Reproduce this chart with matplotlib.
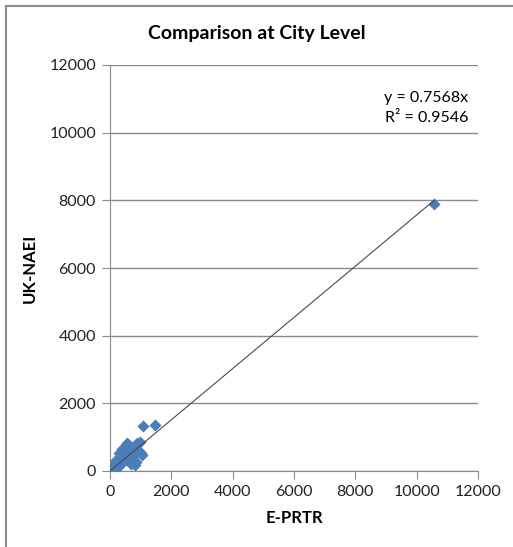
import numpy as np
import matplotlib
matplotlib.use("Agg")
import matplotlib.pyplot as plt

# city-level totals: E-PRTR vs UK-NAEI
eprtr = [10, 25, 40, 55, 70, 85, 100, 120, 140, 160, 180, 200, 220, 240, 260,
         280, 300, 320, 340, 360, 380, 400, 420, 440, 460, 480, 500, 520, 540,
         560, 580, 600, 630, 660, 690, 720, 750, 780, 810, 840, 870, 900, 950,
         1000, 1050, 150, 250, 350, 450, 550, 650, 750, 850, 200, 300, 400,
         500, 600, 700, 820, 980, 1076, 1467, 10565]
naei = [20, 60, 30, 90, 50, 120, 80, 150, 110, 200, 140, 260, 180, 300, 230,
        350, 270, 420, 310, 480, 350, 560, 400, 620, 440, 700, 480, 760, 520,
        820, 560, 480, 600, 520, 650, 560, 700, 600, 750, 640, 820, 560, 600,
        540, 480, 40, 120, 200, 300, 380, 300, 420, 260, 320, 520, 640, 680,
        400, 200, 180, 850, 1330, 1360, 7890]
slope = 0.7568
r2 = 0.9546

grid_c = "#8a8a8a"
plt.rcParams["font.family"] = ["Lato", "DejaVu Sans"]

fig = plt.figure(figsize=(5.13, 5.47), dpi=100)
ax = fig.add_axes([110/513, 1-471/547, 368/513, 406/547])

ax.scatter(eprtr, naei, marker="D", s=38, color="#4A7EBB", zorder=3, linewidths=0)
xt = np.array([0, max(eprtr)])
ax.plot(xt, slope*xt, color="#4a4a4a", lw=0.8, zorder=4)

ax.set_xlim(0, 12000); ax.set_ylim(0, 12000)
ax.set_xticks(range(0, 12001, 2000)); ax.set_yticks(range(0, 12001, 2000))
ax.grid(axis="y", color=grid_c, lw=1)
ax.set_axisbelow(True)
for s in ["top", "right"]:
    ax.spines[s].set_visible(False)
for s in ["left", "bottom"]:
    ax.spines[s].set_color(grid_c)
ax.tick_params(direction="out", length=6, color=grid_c, labelsize=11.5, labelcolor="#222222", pad=4)

ax.set_xlabel("E-PRTR", fontsize=12, fontweight="bold", labelpad=8)
ax.set_ylabel("UK-NAEI", fontsize=12, fontweight="bold", labelpad=8)
fig.text(0.5, 1-33/547, "Comparison at City Level", ha="center", va="center",
         fontsize=14, fontweight="bold")
ax.text(0.973, 0.895, f"y = {slope}x\nR² = {r2}", transform=ax.transAxes, ha="right",
        va="center", fontsize=11.5, linespacing=1.55)

# chart frame, open at bottom/right
fig.add_artist(plt.Line2D([6/513, 6/513], [0, 1-6/547], color="#8c8c8c", lw=1.5))
fig.add_artist(plt.Line2D([6/513, 1], [1-6/547, 1-6/547], color="#8c8c8c", lw=1.5))

fig.savefig("out.png", dpi=100)
